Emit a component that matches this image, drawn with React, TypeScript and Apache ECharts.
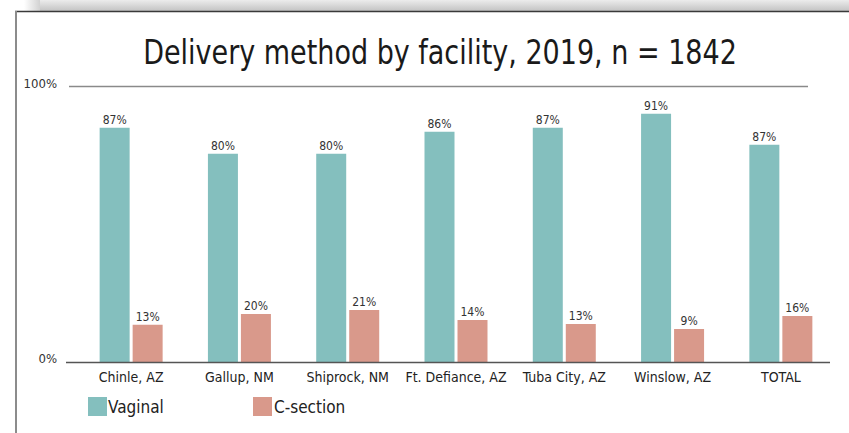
import React, { useEffect, useRef } from "react";
import * as echarts from "echarts";

const categories = ["Chinle, AZ", "Gallup, NM", "Shiprock, NM", "Ft. Defiance, AZ", "Tuba City, AZ", "Winslow, AZ", "TOTAL"];
// bar heights as drawn in the picture (percent)
const vaginalValues = [85.0, 75.6, 75.6, 83.6, 85.0, 90.1, 78.9];
const csectionValues = [13.5, 17.4, 18.9, 15.2, 13.8, 12.0, 16.7];
// printed value labels
const vaginalLabels = ["87%", "80%", "80%", "86%", "87%", "91%", "87%"];
const csectionLabels = ["13%", "20%", "21%", "14%", "13%", "9%", "16%"];
const yTicks = [0, 100];
const titleText = "Delivery method by facility, 2019, n = 1842";

const FONT = "'DejaVu Sans Condensed', 'Liberation Sans Narrow', 'Roboto', sans-serif";
const TEAL = "#84bfbe";
const SALMON = "#d9998b";

export default function App() {
  const ref = useRef<HTMLDivElement>(null);
  useEffect(() => {
    if (!ref.current) return;
    const chart = echarts.init(ref.current, undefined, { renderer: "svg" });
    const option: any = {
      animation: false,
      backgroundColor: "#ffffff",
      legend: [
        {
          data: ["Vaginal"],
          left: 88,
          top: 397,
          padding: 0,
          itemWidth: 19,
          itemHeight: 19,
          icon: "rect",
          textStyle: { fontFamily: FONT, fontSize: 17, color: "#222", padding: [0, 0, 0, -4] },
        },
        {
          data: ["C-section"],
          left: 253,
          top: 397,
          padding: 0,
          itemWidth: 19,
          itemHeight: 19,
          icon: "rect",
          textStyle: { fontFamily: FONT, fontSize: 17, color: "#222", padding: [0, 0, 0, -3] },
        },
      ],
      grid: { left: 77, right: 14, top: 86.5, bottom: 71, containLabel: false },
      xAxis: {
        type: "category",
        data: categories,
        axisLine: { show: false },
        axisTick: { show: false },
        axisLabel: { fontFamily: FONT, fontSize: 14, color: "#222", margin: 8, interval: 0 },
      },
      yAxis: {
        type: "value",
        min: yTicks[0],
        max: yTicks[1],
        interval: 100,
        axisLine: { show: false },
        axisTick: { show: false },
        splitLine: { show: false },
        axisLabel: {
          fontFamily: FONT,
          fontSize: 13,
          color: "#333",
          margin: 20,
          verticalAlign: "bottom",
          lineHeight: 7,
          formatter: (v: number) => v + "%",
        },
      },
      series: [
        {
          name: "Vaginal",
          type: "bar",
          data: vaginalValues,
          barWidth: 30,
          barGap: "10%",
          itemStyle: { color: TEAL },
          label: {
            show: true,
            position: "top",
            distance: 2,
            fontFamily: FONT,
            fontSize: 12,
            color: "#333",
            formatter: (p: any) => vaginalLabels[p.dataIndex],
          },
        },
        {
          name: "C-section",
          type: "bar",
          data: csectionValues,
          barWidth: 30,
          barGap: "10%",
          itemStyle: { color: SALMON },
          label: {
            show: true,
            position: "top",
            distance: 2,
            fontFamily: FONT,
            fontSize: 12,
            color: "#333",
            formatter: (p: any) => csectionLabels[p.dataIndex],
          },
        },
      ],
    };
    chart.setOption(option);
    const y0 = chart.convertToPixel({ yAxisIndex: 0 }, yTicks[0]) as number;
    const y100 = chart.convertToPixel({ yAxisIndex: 0 }, yTicks[1]) as number;
    chart.setOption({
      graphic: [
        {
          type: "rect",
          z: -1,
          shape: { x: 40, y: 0, width: 820, height: 11 },
          style: {
            fill: new echarts.graphic.LinearGradient(0, 0, 0, 1, [
              { offset: 0, color: "#ececec" },
              { offset: 1, color: "#c3c3c3" },
            ]),
          },
        },
        {
          type: "rect",
          z: -1,
          shape: { x: 24, y: 0, width: 16, height: 11 },
          style: {
            fill: new echarts.graphic.LinearGradient(0, 0, 1, 0, [
              { offset: 0, color: "#ffffff" },
              { offset: 1, color: "#d2d2d2" },
            ]),
          },
        },
        {
          type: "line",
          shape: { x1: 15, y1: 11.5, x2: 849, y2: 11.5 },
          style: { stroke: "#3a3a3a", lineWidth: 1.5 },
        },
        {
          type: "line",
          shape: { x1: 16, y1: 11, x2: 16, y2: 433 },
          style: { stroke: "#8c8c8c", lineWidth: 2 },
        },
        {
          type: "text",
          x: 440,
          y: 52,
          scaleX: 0.91,
          style: {
            text: titleText,
            x: 0,
            y: 0,
            font: "normal 33px " + FONT,
            fill: "#1a1a1a",
            textAlign: "center",
            textVerticalAlign: "middle",
          },
        },
        {
          type: "line",
          shape: { x1: 69, y1: y100, x2: 808, y2: y100 },
          style: { stroke: "#8a8a8a", lineWidth: 1.5 },
        },
        {
          type: "line",
          z: 10,
          shape: { x1: 66, y1: y0 + 0.5, x2: 830, y2: y0 + 0.5 },
          style: { stroke: "#555555", lineWidth: 1.5 },
        },
      ],
    });
    return () => chart.dispose();
  }, []);
  return (
    <div
      ref={ref}
      style={{ position: "absolute", left: 0, top: 0, width: 849, height: 433 }}
    />
  );
}
